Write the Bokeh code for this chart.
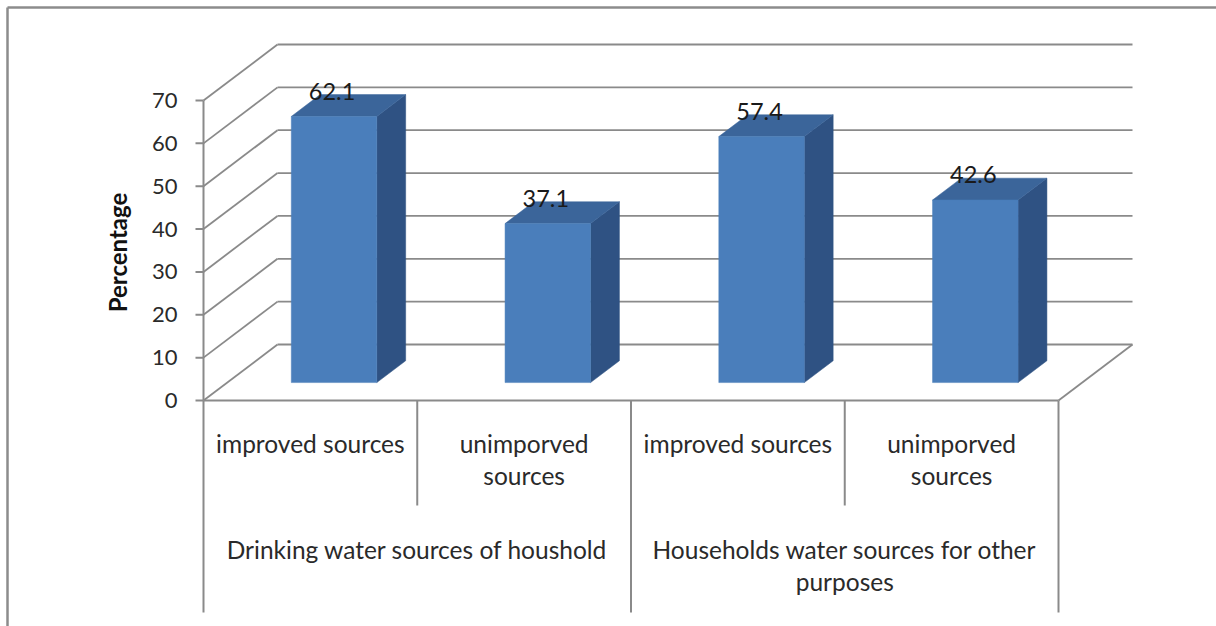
from bokeh.plotting import figure
from bokeh.models import Range1d, ColumnDataSource
from bokeh.embed import file_html
from bokeh.resources import INLINE
from bokeh.core.properties import value

# ---- data -------------------------------------------------------------
groups = [
    ["Drinking water sources of houshold"],
    ["Households water sources for other", "purposes"],
]
categories = [
    ["improved sources"],
    ["unimporved", "sources"],
    ["improved sources"],
    ["unimporved", "sources"],
]
percentages = [62.1, 37.1, 57.4, 42.6]
y_ticks = [0, 10, 20, 30, 40, 50, 60, 70]
y_label = "Percentage"

# ---- layout of the drawing (screen scale of one category / one unit) ---
W, H = 1216, 626
ORIGIN_X, ORIGIN_Y = 203.0, 400.0      # canvas position of (category 0, value 0)
PX_PER_CAT = 213.75
PX_PER_UNIT = 4.2857

def dx_px(px):
    return px / PX_PER_CAT

def dy_px(px):
    return px / PX_PER_UNIT

def cx(px):
    return (px - ORIGIN_X) / PX_PER_CAT

def cy(py):
    return (ORIGIN_Y - py) / PX_PER_UNIT

DEPTH_X = dx_px(74)        # receding offset of the floor / back wall
DEPTH_Y = dy_px(56)
F0, F1 = 0.32, 0.71        # front and back depth of the bars (fraction of floor depth)
BAR_W = 0.40

GRID = "#8a8a8a"
TEXT = "#2a2a2a"
FONT = value("Lato")
FRONT, TOP, SIDE = "#4a7ebb", "#3b659a", "#2f5283"

p = figure(
    width=W, height=H,
    x_range=Range1d(cx(0), cx(W)), y_range=Range1d(cy(H), cy(0)),
    output_backend="svg", toolbar_location=None,
    x_axis_location=None, y_axis_location=None,
    min_border=0, outline_line_color=None,
)
p.grid.visible = False
p.background_fill_color = "white"
p.border_fill_color = "white"

n = len(percentages)
top_val = max(y_ticks)

# ---- walls: back wall grid lines and side wall diagonals --------------
p.segment(x0=[DEPTH_X] * len(y_ticks), y0=[t + DEPTH_Y for t in y_ticks],
          x1=[n + DEPTH_X] * len(y_ticks), y1=[t + DEPTH_Y for t in y_ticks],
          line_color=GRID, line_width=1.8)
p.segment(x0=[0] * len(y_ticks), y0=y_ticks,
          x1=[DEPTH_X] * len(y_ticks), y1=[t + DEPTH_Y for t in y_ticks],
          line_color=GRID, line_width=1.8)
# floor right edge
p.segment(x0=[n], y0=[0], x1=[n + DEPTH_X], y1=[DEPTH_Y],
          line_color=GRID, line_width=1.8)

# ---- value axis ---------------------------------------------------------
p.segment(x0=[0], y0=[0], x1=[0], y1=[top_val], line_color=GRID, line_width=2)
p.segment(x0=[dx_px(-8)] * len(y_ticks), y0=y_ticks,
          x1=[0] * len(y_ticks), y1=y_ticks, line_color=GRID, line_width=2)
p.text(x=[dx_px(-26)] * len(y_ticks), y=y_ticks, text=[str(t) for t in y_ticks],
       text_align="right", text_baseline="middle", text_font=FONT,
       text_font_size="22px", text_color=TEXT)
p.text(x=[cx(117)], y=[cy(252)], text=[y_label], angle=1.5708,
       text_align="center", text_baseline="middle", text_font=FONT,
       text_font_size="24px", text_font_style="bold", text_color="#111111")

# ---- category axis --------------------------------------------------------
p.segment(x0=[0], y0=[0], x1=[n], y1=[0], line_color=GRID, line_width=2)
long_ticks = [0, 2, 4]
short_ticks = [1, 3]
p.segment(x0=long_ticks, y0=[0] * 3, x1=long_ticks, y1=[cy(612)] * 3,
          line_color=GRID, line_width=2)
p.segment(x0=short_ticks, y0=[0] * 2, x1=short_ticks, y1=[cy(505)] * 2,
          line_color=GRID, line_width=2)

LINE_STEP = dy_px(32)
lx, ly, lt = [], [], []
for i, lines in enumerate(categories):
    for k, s in enumerate(lines):
        lx.append(i + 0.5)
        ly.append(cy(443) - k * LINE_STEP)
        lt.append(s)
for g, lines in enumerate(groups):
    for k, s in enumerate(lines):
        lx.append(2 * g + 1.0)
        ly.append(cy(549) - k * LINE_STEP)
        lt.append(s)
p.text(x=lx, y=ly, text=lt, text_align="center", text_baseline="middle",
       text_font=FONT, text_font_size="24.5px", text_color=TEXT)

# ---- 3-D bars ---------------------------------------------------------------
centers = [i + 0.5 for i in range(n)]
xl = [c - BAR_W / 2 for c in centers]
xr = [c + BAR_W / 2 for c in centers]
ox0, oy0 = F0 * DEPTH_X, F0 * DEPTH_Y
ox1, oy1 = F1 * DEPTH_X, F1 * DEPTH_Y

side_xs = [[r + ox0, r + ox1, r + ox1, r + ox0] for r in xr]
side_ys = [[oy0, oy1, v + oy1, v + oy0] for v in percentages]
top_xs = [[l + ox0, r + ox0, r + ox1, l + ox1] for l, r in zip(xl, xr)]
top_ys = [[v + oy0, v + oy0, v + oy1, v + oy1] for v in percentages]

p.patches(xs=side_xs, ys=side_ys, fill_color=SIDE, line_color=SIDE, line_width=0.5)
p.patches(xs=top_xs, ys=top_ys, fill_color=TOP, line_color=TOP, line_width=0.5)
bars = ColumnDataSource(dict(
    left=[l + ox0 for l in xl], right=[r + ox0 for r in xr],
    bottom=[oy0] * n, top=[v + oy0 for v in percentages]))
p.quad(left="left", right="right", bottom="bottom", top="top", source=bars,
       fill_color=FRONT, line_color=FRONT, line_width=0.5)

# value labels above each bar
p.text(x=[c + ox0 - dx_px(2) for c in centers], y=[v + oy1 + 0.8 for v in percentages],
       text=[f"{v:.1f}" for v in percentages], text_align="center",
       text_baseline="middle", text_font=FONT, text_font_size="23.5px",
       text_color="#1a1a1a")

# ---- chart area frame (left and top edges) -----------------------------------
p.segment(x0=[cx(7), cx(7)], y0=[cy(7), cy(7)], x1=[cx(W + 5), cx(7)],
          y1=[cy(7), cy(H + 5)], line_color="#8c8c8c", line_width=2.5)

open("out.html", "w").write(file_html(p, INLINE))
